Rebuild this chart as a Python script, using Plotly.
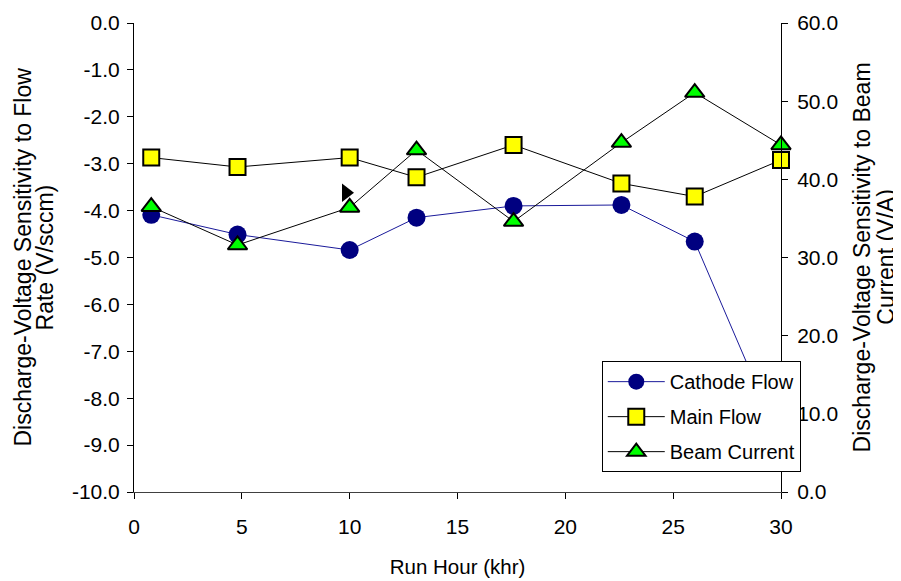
import plotly.graph_objects as go

# ---- data ----
run_hour = [0.8, 4.8, 10.0, 13.1, 17.6, 22.6, 26.0, 30.0]
cathode_flow = [-4.09, -4.51, -4.84, -4.15, -3.90, -3.88, -4.66, -8.95]
main_flow = [-2.87, -3.07, -2.87, -3.29, -2.60, -3.42, -3.70, -2.92]
beam_current = [36.5, 31.6, 36.4, 43.75, 34.6, 44.7, 51.1, 44.4]
cursor_x = [9.83]
cursor_y = [-3.62]

x_ticks = [0, 5, 10, 15, 20, 25, 30]
left_ticks = [0, -1, -2, -3, -4, -5, -6, -7, -8, -9, -10]
left_tick_labels = ["0.0", "-1.0", "-2.0", "-3.0", "-4.0", "-5.0", "-6.0", "-7.0", "-8.0", "-9.0", "-10.0"]
right_ticks = [0, 10, 20, 30, 40, 50, 60]
right_tick_labels = ["0.0", "10.0", "20.0", "30.0", "40.0", "50.0", "60.0"]

left_title = ["Discharge-Voltage Sensitivity to Flow", "Rate (V/sccm)"]
right_title = ["Discharge-Voltage Sensitivity to Beam", "Current (V/A)"]

FONT = "Liberation Sans, Arial, sans-serif"
tick_fs = 21

fig = go.Figure()
fig.add_trace(go.Scatter(
    x=run_hour, y=cathode_flow, name="Cathode Flow", mode="lines+markers",
    line=dict(color="#1a1a9a", width=1),
    marker=dict(symbol="circle", size=18, color="#000080", line=dict(width=0)),
    cliponaxis=False, legendgroup="a", yaxis="y"))
fig.add_trace(go.Scatter(
    x=run_hour, y=main_flow, name="Main Flow", mode="lines+markers",
    line=dict(color="black", width=1),
    marker=dict(symbol="square", size=16, color="#FFFF00", line=dict(width=2, color="black")),
    cliponaxis=False, legendgroup="b", yaxis="y"))
fig.add_trace(go.Scatter(
    x=cursor_x, y=cursor_y, mode="markers", showlegend=False, hoverinfo="skip",
    marker=dict(symbol="triangle-right", size=16, color="black"),
    yaxis="y"))
fig.add_trace(go.Scatter(
    x=run_hour, y=beam_current, name="Beam Current", mode="lines+markers",
    line=dict(color="black", width=1),
    marker=dict(symbol="triangle-up", size=17, color="#00FF00", line=dict(width=2, color="black")),
    cliponaxis=False, legendgroup="c", yaxis="y2"))

axis_common = dict(showgrid=False, zeroline=False, showline=True, linecolor="black",
                   linewidth=1, ticks="outside", ticklen=6, tickcolor="black",
                   automargin=False,
                   tickfont=dict(family=FONT, size=tick_fs, color="black"))

# the page body adds an 8px margin, so the figure is 8px smaller on each side
fig.update_layout(
    width=893, height=573,
    margin=dict(l=126, r=120, t=15, b=89),
    paper_bgcolor="white", plot_bgcolor="white",
    font=dict(family=FONT, size=tick_fs, color="black"),
    xaxis=dict(range=[0, 30], tickvals=x_ticks, ticktext=[str(v) for v in x_ticks],
               ticklabelstandoff=10,
               title=dict(text="Run Hour (khr)", font=dict(family=FONT, size=20.5), standoff=22),
               **{**axis_common, "linecolor": "#404040"}),
    yaxis=dict(range=[-10, 0], tickvals=left_ticks, ticktext=left_tick_labels,
               ticklabelstandoff=3, **axis_common),
    yaxis2=dict(range=[0, 60], tickvals=right_ticks, ticktext=right_tick_labels,
                overlaying="y", side="right", anchor="x", ticklabelstandoff=5,
                **axis_common),
    yaxis3=dict(range=[0, 60], tickvals=right_ticks, overlaying="y", side="right", anchor="x",
                showticklabels=False, showgrid=False, zeroline=False, showline=False,
                ticks="inside", ticklen=6, tickcolor="black", automargin=False),
    legend=dict(x=0.723, y=0.279, xanchor="left", yanchor="top",
                bgcolor="white", bordercolor="black", borderwidth=1,
                font=dict(family=FONT, size=20, color="black"),
                tracegroupgap=6, itemwidth=57),
    showlegend=True,
)

title_pos = [(-0.1731, left_title[0]), (-0.1376, left_title[1]),
             (1.125, right_title[0]), (1.161, right_title[1])]
for xp, txt in title_pos:
    fig.add_annotation(x=xp, y=0.5, xref="paper", yref="paper", text=txt,
                       textangle=-90, showarrow=False, xanchor="center", yanchor="middle",
                       font=dict(family=FONT, size=23, color="black"))

fig.write_html("out.html")
